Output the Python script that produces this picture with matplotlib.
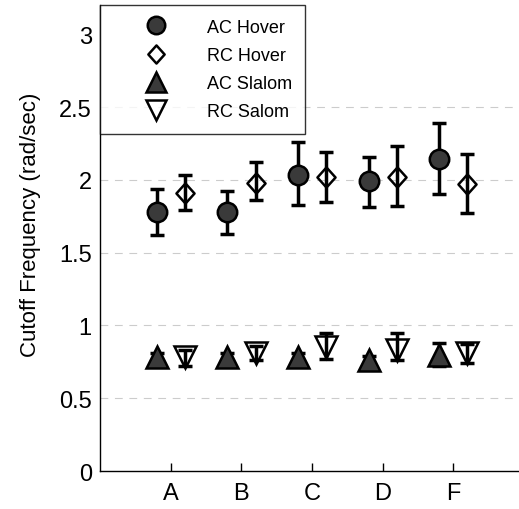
import numpy as np
import matplotlib
matplotlib.use("Agg")
import matplotlib.pyplot as plt
from matplotlib.path import Path

plt.rcParams['font.family'] = ['Liberation Sans', 'DejaVu Sans']

groups = ['A', 'B', 'C', 'D', 'F']

# values (centre, lower end, upper end of the error bar)
ac_hover = [1.78, 1.78, 2.03, 1.99, 2.14]
ac_hover_lo = [1.62, 1.63, 1.83, 1.81, 1.90]
ac_hover_hi = [1.94, 1.92, 2.26, 2.16, 2.39]

rc_hover = [1.91, 1.98, 2.02, 2.02, 1.97]
rc_hover_lo = [1.79, 1.86, 1.85, 1.82, 1.77]
rc_hover_hi = [2.03, 2.12, 2.19, 2.23, 2.18]

ac_slalom = [0.78, 0.78, 0.78, 0.76, 0.80]
ac_slalom_lo = [0.75, 0.75, 0.75, 0.73, 0.72]
ac_slalom_hi = [0.81, 0.81, 0.81, 0.79, 0.88]

rc_slalom = [0.78, 0.81, 0.85, 0.83, 0.81]
rc_slalom_lo = [0.72, 0.76, 0.77, 0.76, 0.74]
rc_slalom_hi = [0.83, 0.86, 0.95, 0.95, 0.87]

grid_levels = [0.5, 1.0, 1.5, 2.0, 2.5]

dark = '#3a3a3a'
diamond = Path([(0, 1), (0.9, 0), (0, -1), (-0.9, 0), (0, 1)],
               [Path.MOVETO, Path.LINETO, Path.LINETO, Path.LINETO, Path.CLOSEPOLY])

fig = plt.figure(figsize=(5.19, 5.10), dpi=100)
ax = fig.add_axes([0.193, 0.0745, 0.807, 0.9135])

x = np.arange(1, len(groups) + 1)
off = 0.2

series = [
    (x - off, ac_hover, ac_hover_lo, ac_hover_hi, 'o', dark, 14, 'AC Hover'),
    (x + off, rc_hover, rc_hover_lo, rc_hover_hi, diamond, 'white', 14.5, 'RC Hover'),
    (x - off, ac_slalom, ac_slalom_lo, ac_slalom_hi, '^', dark, 16, 'AC Slalom'),
    (x + off, rc_slalom, rc_slalom_lo, rc_slalom_hi, 'v', 'white', 16, 'RC Salom'),
]

for y in grid_levels:
    ax.axhline(y, color='#cccccc', lw=0.8, ls=(0, (7, 6)), zorder=0)

for xs, y, lo, hi, m, fc, ms, lab in series:
    y = np.array(y)
    yerr = [y - np.array(lo), np.array(hi) - y]
    ax.errorbar(xs, y, yerr=yerr, fmt='none', ecolor='black', elinewidth=2.5,
                capsize=4.8, capthick=2.5, zorder=2)
    mfc = 'none' if fc == 'white' else fc
    ax.plot(xs, y, ls='none', marker=m, ms=ms, mfc=mfc, mec='black', mew=1.8,
            zorder=3, label=lab)

ax.set_xlim(0, 5.93)
ax.set_ylim(0, 3.2)
ax.set_xticks(x)
ax.set_xticklabels(groups)
ax.set_yticks([0, 0.5, 1, 1.5, 2, 2.5, 3])
ax.set_yticklabels(['0', '0.5', '1', '1.5', '2', '2.5', '3'])
ax.tick_params(axis='x', direction='in', length=6, width=1, labelsize=17, pad=8)
ax.tick_params(axis='y', length=0, labelsize=17, pad=6)
ax.set_ylabel('Cutoff Frequency (rad/sec)', fontsize=16)
ax.yaxis.set_label_coords(-0.167, 0.531)
ax.yaxis.label.set_va('center')

ax.spines['top'].set_visible(False)
ax.spines['right'].set_visible(False)
for s in ('left', 'bottom'):
    ax.spines[s].set_linewidth(1.0)

leg = ax.legend(loc='upper left', bbox_to_anchor=(0.0, 1.0), fontsize=13,
                frameon=True, fancybox=False, edgecolor='black', borderpad=0.75,
                handletextpad=0.45, labelspacing=0.62, markerscale=0.9,
                borderaxespad=0.0, handlelength=4.7)
leg.get_frame().set_linewidth(1.0)

fig.savefig('out.png', dpi=100)
